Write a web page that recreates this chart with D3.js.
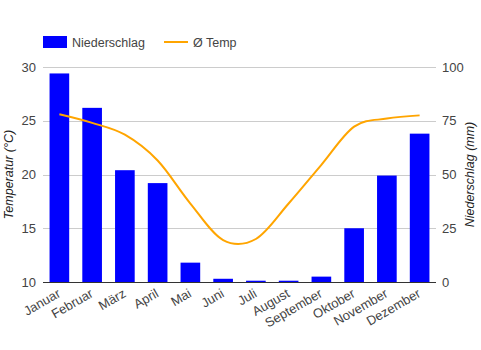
<!DOCTYPE html>
<html>
<head>
<meta charset="utf-8">
<script src="https://cdn.jsdelivr.net/npm/d3@7/dist/d3.min.js"></script>
<style>
  html, body { margin: 0; padding: 0; background: #fff; }
  svg { display: block; font-family: Arial, "Liberation Sans", sans-serif; }
</style>
</head>
<body>
<svg id="chart" width="481" height="350"></svg>
<script>
// Klimadiagramm: monatlicher Niederschlag (Balken) und Durchschnittstemperatur (Linie)
const months = ["Januar", "Februar", "März", "April", "Mai", "Juni", "Juli",
                "August", "September", "Oktober", "November", "Dezember"];
const precipitation = [97, 81, 52, 46, 9, 1.5, 0.6, 0.6, 2.5, 25, 49.5, 69];
const temperature = [25.6, 24.8, 23.7, 21.3, 17.3, 13.9, 14.0, 17.3, 20.9, 24.45, 25.2, 25.5];
const tempTicks = [10, 15, 20, 25, 30];
const precipTicks = [0, 25, 50, 75, 100];

const svg = d3.select("#chart");
const plotLeft = 43, plotRight = 436, plotTop = 67, plotBottom = 282;

const x = d3.scaleBand().domain(months).range([plotLeft, plotRight]).paddingInner(0.4).paddingOuter(0.2);
const yTemp = d3.scaleLinear().domain([10, 30]).range([plotBottom, plotTop]);
const yPrecip = d3.scaleLinear().domain([0, 100]).range([plotBottom, plotTop]);

const textColor = "#444";

// Gitterlinien
svg.append("g")
  .selectAll("line")
  .data(tempTicks.filter(t => t !== 10))
  .join("line")
  .attr("x1", plotLeft).attr("x2", plotRight)
  .attr("y1", d => Math.round(yTemp(d)) + 0.5)
  .attr("y2", d => Math.round(yTemp(d)) + 0.5)
  .attr("stroke", "#ccc").attr("stroke-width", 1);

// Linke Achse (Temperatur)
svg.append("g")
  .selectAll("text")
  .data(tempTicks)
  .join("text")
  .attr("x", plotLeft - 7)
  .attr("y", d => yTemp(d) + 4.5)
  .attr("text-anchor", "end")
  .attr("font-size", 13)
  .attr("fill", textColor)
  .text(d => d);

// Rechte Achse (Niederschlag)
svg.append("g")
  .selectAll("text")
  .data(precipTicks)
  .join("text")
  .attr("x", plotRight + 6)
  .attr("y", d => yPrecip(d) + 4.5)
  .attr("text-anchor", "start")
  .attr("font-size", 13)
  .attr("fill", textColor)
  .text(d => d);

// Balken
svg.append("g")
  .selectAll("rect")
  .data(precipitation)
  .join("rect")
  .attr("x", (d, i) => x(months[i]))
  .attr("width", x.bandwidth())
  .attr("y", d => yPrecip(d))
  .attr("height", d => plotBottom - yPrecip(d))
  .attr("fill", "#0000ff");

// Grundlinie
svg.append("line")
  .attr("x1", plotLeft).attr("x2", plotRight)
  .attr("y1", plotBottom + 0.5).attr("y2", plotBottom + 0.5)
  .attr("stroke", "#333").attr("stroke-width", 1);

// Temperaturkurve
const line = d3.line()
  .x((d, i) => x(months[i]) + x.bandwidth() / 2)
  .y(d => yTemp(d))
  .curve(d3.curveCatmullRom.alpha(0));
svg.append("path")
  .datum(temperature)
  .attr("d", line)
  .attr("fill", "none")
  .attr("stroke", "#ffa500")
  .attr("stroke-width", 2);

// Monatsbeschriftungen
svg.append("g")
  .selectAll("text")
  .data(months)
  .join("text")
  .attr("transform", d => `translate(${x(d) + x.bandwidth() / 2 + 2},${plotBottom + 14}) rotate(-30)`)
  .attr("text-anchor", "end")
  .attr("font-size", 13)
  .attr("fill", textColor)
  .text(d => d);

// Achsentitel
svg.append("text")
  .attr("transform", `translate(13,${(plotTop + plotBottom) / 2}) rotate(-90)`)
  .attr("text-anchor", "middle")
  .attr("font-size", 12.5)
  .attr("font-style", "italic")
  .attr("fill", "#222")
  .text("Temperatur (°C)");
svg.append("text")
  .attr("transform", `translate(474,${(plotTop + plotBottom) / 2}) rotate(-90)`)
  .attr("text-anchor", "middle")
  .attr("font-size", 12.5)
  .attr("font-style", "italic")
  .attr("fill", "#222")
  .text("Niederschlag (mm)");

// Legende
const legend = svg.append("g");
legend.append("rect")
  .attr("x", 43).attr("y", 36).attr("width", 24).attr("height", 12)
  .attr("fill", "#0000ff");
legend.append("text")
  .attr("x", 72).attr("y", 46.5)
  .attr("font-size", 12.5)
  .attr("fill", textColor)
  .text("Niederschlag");
legend.append("line")
  .attr("x1", 164).attr("x2", 188).attr("y1", 42).attr("y2", 42)
  .attr("stroke", "#ffa500").attr("stroke-width", 2);
legend.append("text")
  .attr("x", 193).attr("y", 46.5)
  .attr("font-size", 12.5)
  .attr("fill", textColor)
  .text("Ø Temp");
</script>
</body>
</html>
